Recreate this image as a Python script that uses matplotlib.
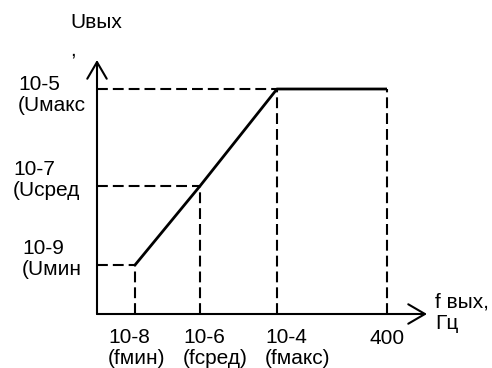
import matplotlib.pyplot as plt

plt.rcParams['font.family'] = ['Liberation Sans', 'DejaVu Sans']

# schematic positions (in px from the origin)
f_pts = [38, 103, 180, 290]          # fмин, fсред, fмакс, 400
u_pts = [49, 128, 225, 225]          # Uмин, Uсред, Uмакс, Uмакс
f_labels = ['10-8\n(fмин)', '10-6\n(fсред)', '10-4\n(fмакс)', '400']
u_labels = ['10-9\n(Uмин', '10-7\n(Uсред', '10-5\n(Uмакс']

fig = plt.figure(figsize=(4.92, 3.68), dpi=100)
ax = fig.add_axes([0, 0, 1, 1])
ax.set_xlim(-97, 395)
ax.set_ylim(-54, 314)
ax.axis('off')

lw = 1.5
dash = (0, (5.2, 2.4))

# axes arrows
arr = dict(arrowstyle='->,head_length=0.6,head_width=0.35', lw=lw, color='black',
           shrinkA=0, shrinkB=0, mutation_scale=20)
ax.annotate('', xy=(0, 254), xytext=(0, 0), arrowprops=arr)
ax.annotate('', xy=(330, 0), xytext=(0, 0), arrowprops=arr)

# dashed guides
for f, u in zip(f_pts, u_pts):
    ax.plot([f, f], [0, u], color='black', lw=lw, linestyle=dash)
for f, u in zip(f_pts[:3], u_pts[:3]):
    ax.plot([0, f], [u, u], color='black', lw=lw, linestyle=dash)

# characteristic
ax.plot(f_pts, u_pts, color='black', lw=2, solid_capstyle='butt')

fs = 15
ls = 1.15
# y labels
ax.text(-75, 55, u_labels[0], fontsize=fs, ha='left', va='center', linespacing=ls)
ax.text(-84, 134, u_labels[1], fontsize=fs, ha='left', va='center', linespacing=ls)
ax.text(-79, 219, u_labels[2], fontsize=fs, ha='left', va='center', linespacing=ls)
ax.text(-27, 292, 'Uвых', fontsize=fs, ha='left', va='center')
ax.text(-27, 264, ',', fontsize=fs, ha='left', va='center')

# x labels
ax.text(11, -34, f_labels[0], fontsize=fs, ha='left', va='center', linespacing=ls)
ax.text(86, -34, f_labels[1], fontsize=fs, ha='left', va='center', linespacing=ls)
ax.text(168, -34, f_labels[2], fontsize=fs, ha='left', va='center', linespacing=ls)
ax.text(f_pts[3], -24, f_labels[3], fontsize=fs, ha='center', va='center')
ax.text(338, 1, 'f вых,\nГц', fontsize=fs, ha='left', va='center', linespacing=ls)

fig.savefig('out.png', dpi=100)
